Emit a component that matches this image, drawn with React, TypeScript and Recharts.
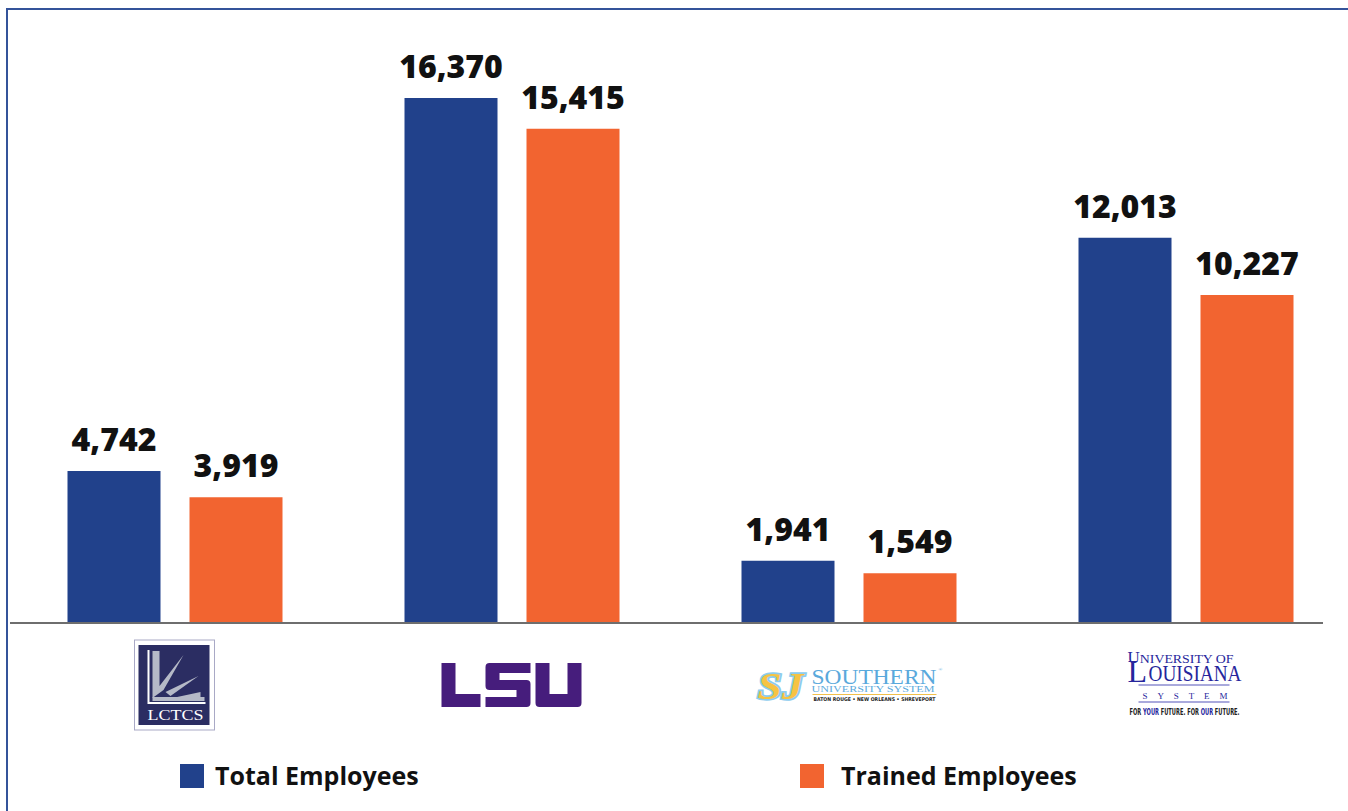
import { BarChart, Bar, XAxis, YAxis, Legend, LabelList } from 'recharts'

const categories = ['LCTCS', 'LSU', 'Southern University System', 'University of Louisiana System']
const totalEmployees = [4742, 16370, 1941, 12013]
const trainedEmployees = [3919, 15415, 1549, 10227]
const seriesNames = ['Total Employees', 'Trained Employees']

const data = categories.map((name, i) => ({
  name,
  total: totalEmployees[i],
  trained: trainedEmployees[i],
}))

const BLUE = '#21418b'
const ORANGE = '#f26430'
const FONT = '"Open Sans", Lato, sans-serif'

function LctcsLogo() {
  return (
    <g>
      <rect x={-40} y={640} width={80} height={90} fill="#fff" stroke="#a9a9c6" strokeWidth={1} />
      <rect x={-36} y={645} width={71} height={80} fill="#2b2d62" />
      <polygon points="-22,651 -15,651 -15,686 9,655 -11,690 -22,698" fill="#b5b9c7" />
      <polygon points="-9,692 24,676 -4,696" fill="#b5b9c7" />
      <polygon points="-2,698 26,692 26,697" fill="#b5b9c7" />
      <rect x={-22} y={697} width={52} height={4} fill="#b5b9c7" />
      <polyline points="-26,650 -26,703 31,703" fill="none" stroke="#fff" strokeWidth={2} />
      <text x={-27} y={720} fill="#fff" fontFamily='"Liberation Serif", serif' fontSize={14} textLength={56} lengthAdjust="spacingAndGlyphs">
        LCTCS
      </text>
    </g>
  )
}

function LsuLogo() {
  return (
    <g transform="translate(-70 663)" fill="#461d7c">
      <path d="M0 0 H14 V31 H39 V44 H0 Z" />
      <path d="M48 0 H89 V10 H58 V17 H85 Q89 17 89 21 V40 Q89 44 85 44 H44 V34 H75 V27 H48 Q44 27 44 23 V4 Q44 0 48 0 Z" />
      <path d="M94 0 H108 V31 H126 V0 H140 V40 Q140 44 136 44 H98 Q94 44 94 40 Z" />
    </g>
  )
}

function SouthernLogo() {
  return (
    <g>
      <text x={-91} y={699} fontFamily='"Liberation Serif", serif' fontStyle="italic" fontWeight={700} fontSize={38}
        fill="#f6c343" stroke="#8cccee" strokeWidth={3.5} paintOrder="stroke" textLength={46} lengthAdjust="spacingAndGlyphs">
        SJ
      </text>
      <text x={-37} y={684} fontFamily='"Liberation Serif", serif' fontSize={22} fill="#5aa9dc" textLength={125} lengthAdjust="spacingAndGlyphs">
        SOUTHERN
      </text>
      <text x={90} y={671} fontSize={5} fill="#5aa9dc">®</text>
      <text x={-37} y={692} fontFamily='"Liberation Serif", serif' fontSize={9} fill="#5aa9dc" textLength={123} lengthAdjust="spacingAndGlyphs">
        UNIVERSITY SYSTEM
      </text>
      <line x1={-36} x2={88} y1={694.5} y2={694.5} stroke="#f2c04a" strokeWidth={1} />
      <text x={-35} y={700.5} fontFamily='"DejaVu Sans", sans-serif' fontWeight={700} fontSize={5} fill="#222" textLength={122} lengthAdjust="spacingAndGlyphs">
        BATON ROUGE • NEW ORLEANS • SHREVEPORT
      </text>
    </g>
  )
}

function UlLogo() {
  const ink = '#26269c'
  return (
    <g>
      <text x={-58} y={663} fontFamily='"Liberation Serif", serif' fontSize={13} fill={ink} textLength={106} lengthAdjust="spacingAndGlyphs">
        <tspan fontSize={16}>U</tspan>NIVERSITY OF
      </text>
      <text x={-58} y={682} fontFamily='"Liberation Serif", serif' fontSize={32} fill={ink}>L</text>
      <text x={-37} y={681} fontFamily='"Liberation Serif", serif' fontSize={23} fill={ink} textLength={93} lengthAdjust="spacingAndGlyphs">
        OUISIANA
      </text>
      <line x1={-47} x2={44} y1={685} y2={685} stroke="#8c8cd0" strokeWidth={1.5} />
      <text x={-43} y={699} fontFamily='"Liberation Serif", serif' fontSize={9} fill={ink} textLength={85}>
        SYSTEM
      </text>
      <line x1={-47} x2={44} y1={702} y2={702} stroke="#8c8cd0" strokeWidth={1.5} />
      <text x={-56} y={715} fontFamily='"DejaVu Sans Condensed", "DejaVu Sans", sans-serif' fontWeight={700} fontSize={9.5} fill="#222"
        textLength={110} lengthAdjust="spacingAndGlyphs">
        FOR <tspan fill={ink}>YOUR</tspan> FUTURE. FOR <tspan fill={ink}>OUR</tspan> FUTURE.
      </text>
    </g>
  )
}

const logos: Record<string, () => JSX.Element> = {
  LCTCS: LctcsLogo,
  LSU: LsuLogo,
  'Southern University System': SouthernLogo,
  'University of Louisiana System': UlLogo,
}

function LogoTick(props: any) {
  const { x, payload } = props
  const Logo = logos[payload.value]
  return <g transform={`translate(${x} 0)`}>{Logo ? <Logo /> : null}</g>
}

function ValueLabel(props: any) {
  const { x, y, width, value } = props
  return (
    <text x={x + width / 2} y={y - 20} textAnchor="middle" fontFamily={FONT} fontWeight={800} fontSize={32} fill="#111">
      {Number(value).toLocaleString('en-US')}
    </text>
  )
}

const legendBoxX = [180, 800]
const legendTextX = [215, 841]

function LegendContent(props: any) {
  const { payload = [] } = props
  return (
    <svg width={1348} height={50} style={{ display: 'block' }}>
      {payload.map((entry: any, i: number) => (
        <g key={entry.value}>
          <rect x={legendBoxX[i]} y={14} width={24} height={24} fill={entry.color} />
          <text x={legendTextX[i]} y={35} fontFamily={FONT} fontWeight={700} fontSize={25} fill="#111">
            {entry.value}
          </text>
        </g>
      ))}
    </svg>
  )
}

export default function App() {
  return (
    <div style={{ position: 'absolute', left: 0, top: 0, width: 1348, height: 811, background: '#fff', overflow: 'hidden' }}>
      <BarChart width={1348} height={811} data={data} margin={{ top: 98, right: -6, bottom: 0, left: 6 }}
        barCategoryGap={61.5} barGap={29}>
        <XAxis dataKey="name" axisLine={false} tickLine={false} interval={0} height={188} tick={<LogoTick />} />
        <YAxis hide domain={[0, 16370]} />
        <Legend layout="vertical" verticalAlign="middle" align="center"
          wrapperStyle={{ top: 750, left: 0, width: 1348, height: 50 }} content={<LegendContent />} />
        <Bar dataKey="total" name={seriesNames[0]} fill={BLUE} isAnimationActive={false}>
          <LabelList dataKey="total" content={<ValueLabel />} />
        </Bar>
        <Bar dataKey="trained" name={seriesNames[1]} fill={ORANGE} isAnimationActive={false}>
          <LabelList dataKey="trained" content={<ValueLabel />} />
        </Bar>
      </BarChart>
      <div style={{ position: 'absolute', left: 10, top: 622, width: 1313, height: 2, background: '#6e6e6e' }} />
      <div style={{ position: 'absolute', left: 6, top: 8, width: 1342, height: 803, borderTop: '2px solid #34539a', borderLeft: '2px solid #34539a', boxSizing: 'border-box' }} />
    </div>
  )
}
